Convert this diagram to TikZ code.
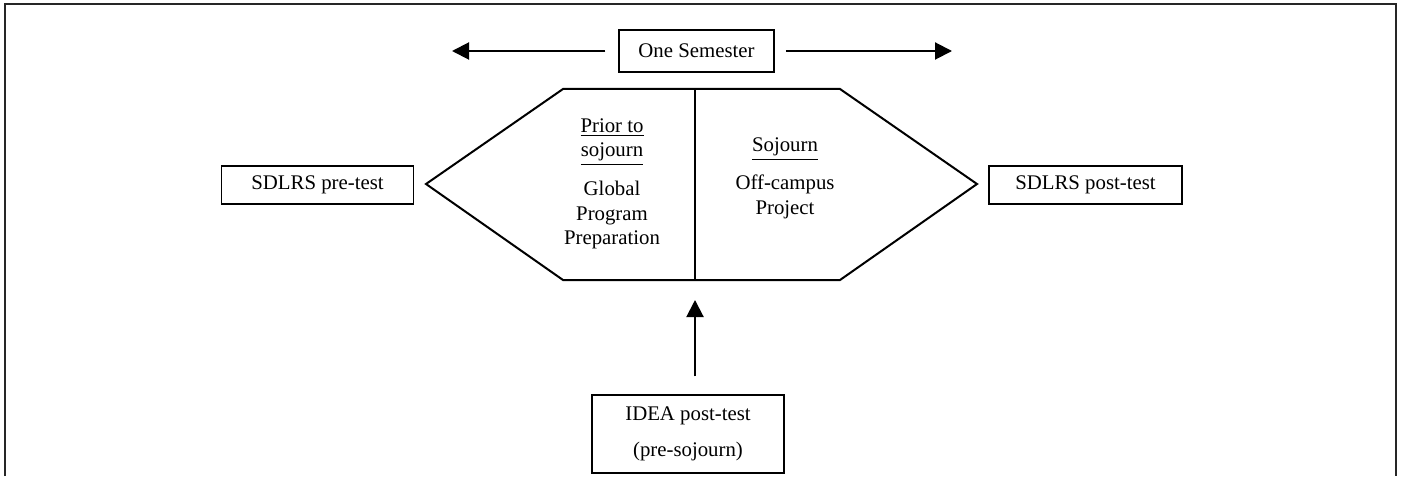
\documentclass[tikz,border=0pt]{standalone}
\usepackage{fontspec}
\setmainfont{Liberation Serif}
\usetikzlibrary{arrows.meta}
\begin{document}
\begin{tikzpicture}[x=0.5pt,y=-0.5pt,
  every node/.style={font=\fontsize{10.4}{12.2}\selectfont, inner sep=0pt},
  boxnode/.style={draw, line width=0.75pt, minimum height=19pt},
  txt/.style={align=center},
  arr/.style={line width=1pt, -{Triangle[length=8.5pt,width=8.5pt]}},
  hexline/.style={line width=1pt, line join=miter}]
\useasboundingbox (0,0) rectangle (1401,476);
% outer frame (open at bottom)
\draw[line width=1.1pt, black!85] (5,476) -- (5,4) -- (1396,4) -- (1396,476);
% One Semester
\node[boxnode, minimum width=77.5pt, minimum height=21pt] (sem) at (696.5,51) {One Semester};
\coordinate (ltip) at (452,51);
\coordinate (rtip) at (952,51);
\draw[arr, shorten <=6.5pt] (sem.west) -- (ltip);
\draw[arr, shorten <=5.5pt] (sem.east) -- (rtip);
% hexagon
\coordinate (hl) at (426,184);
\coordinate (htl) at (563,89);
\coordinate (htr) at (840,89);
\coordinate (hr) at (977,184);
\coordinate (hbr) at (840,280);
\coordinate (hbl) at (563,280);
\coordinate (htm) at (695,89);
\coordinate (hbm) at (695,280);
\draw[hexline] (hl) -- (htl) -- (htr) -- (hr) -- (hbr) -- (hbl) -- cycle;
\draw[hexline] (htm) -- (hbm);
% texts in hexagon
\node[txt] (prior) at (612,142) {\underline{Prior to}\\\underline{sojourn}};
\node[txt] (global) at (612,215) {Global\\Program\\Preparation};
\node[txt] (sojourn) at (785,149) {\underline{Sojourn}};
\node[txt] (offc) at (785,197) {Off-campus\\Project};
% SDLRS boxes
\node[boxnode, minimum width=96pt] (pre) at (317.5,185) {SDLRS pre-test};
\node[boxnode, minimum width=96.5pt] (post) at (1085.5,185) {SDLRS post-test};
% IDEA box
\node[boxnode, minimum width=96pt, minimum height=39pt, txt] (idea) at (688,434) {IDEA post-test\\[6pt](pre-sojourn)};
\draw[arr, shorten <=9pt, shorten >=10pt] (idea.north -| hbm) -- (hbm);
\end{tikzpicture}
\end{document}
